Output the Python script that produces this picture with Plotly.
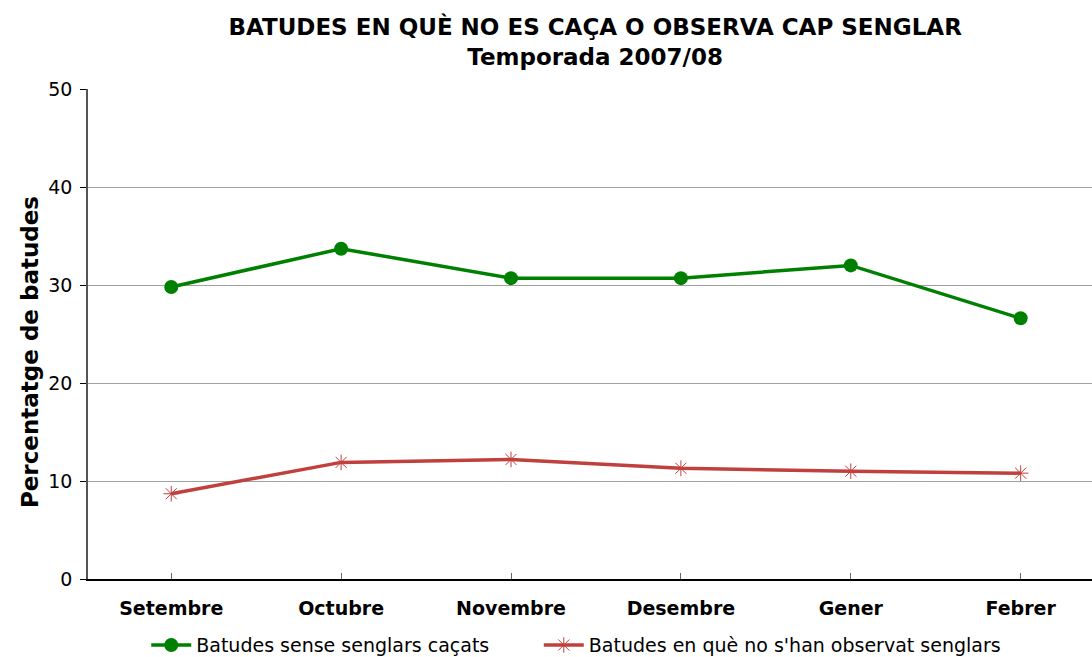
import plotly.graph_objects as go

months = ["Setembre", "Octubre", "Novembre", "Desembre", "Gener", "Febrer"]
sense_cacats = [29.8, 33.7, 30.7, 30.7, 32.0, 26.6]
no_observats = [8.7, 11.9, 12.2, 11.3, 11.0, 10.8]

font_family = "DejaVu Sans"

fig = go.Figure()
fig.add_trace(go.Scatter(
    x=months, y=sense_cacats, name="Batudes sense senglars caçats",
    mode="lines+markers",
    line=dict(color="#008000", width=3.5),
    marker=dict(symbol="circle", size=14, color="#008000"),
    legend="legend",
))
fig.add_trace(go.Scatter(
    x=months, y=no_observats, name="Batudes en què no s'han observat senglars",
    mode="lines+markers",
    line=dict(color="#C0403D", width=3.5),
    marker=dict(symbol="asterisk-open", size=13, line=dict(color="#D05A58", width=1)),
    legend="legend2",
))

legend_style = dict(
    orientation="h", y=-0.135, yanchor="middle", xanchor="left",
    font=dict(size=19), itemwidth=40, bgcolor="rgba(0,0,0,0)",
)

fig.update_layout(
    width=1092, height=657,
    paper_bgcolor="white", plot_bgcolor="white",
    margin=dict(l=88, r=0, t=89, b=78, autoexpand=False),
    font=dict(family=font_family, color="black"),
    title=dict(
        text="<b>BATUDES EN QUÈ NO ES CAÇA O OBSERVA CAP SENGLAR<br>Temporada 2007/08</b>",
        x=0.545, xanchor="center", y=0.947, yanchor="top",
        font=dict(size=23, family=font_family),
    ),
    xaxis=dict(
        type="category", range=[-0.49, 5.42], automargin=False,
        showgrid=False, showline=True, linecolor="black", linewidth=1.5,
        ticks="inside", ticklen=6, tickcolor="#666666",
        tickfont=dict(size=19), ticklabelstandoff=11,
        tickprefix="<b>", ticksuffix="</b>",
    ),
    yaxis=dict(
        range=[0, 50], dtick=10, automargin=False,
        showgrid=True, gridcolor="#A0A0A0", gridwidth=1,
        showline=True, linecolor="#555555", linewidth=1.5,
        ticks="outside", ticklen=6, tickcolor="black",
        tickfont=dict(size=19), ticklabelstandoff=4,
        zeroline=False,
    ),
    legend=dict(x=0.058, **legend_style),
    legend2=dict(x=0.449, **legend_style),
    showlegend=True,
)

fig.add_annotation(
    text="<b>Percentatge de batudes</b>", textangle=-90,
    xref="paper", yref="paper", x=-0.0578, y=0.463,
    xanchor="center", yanchor="middle", showarrow=False,
    font=dict(size=23),
)

fig.write_html(
    "out.html",
    config={"displayModeBar": False},
    post_script="document.body.style.margin='0';",
)
